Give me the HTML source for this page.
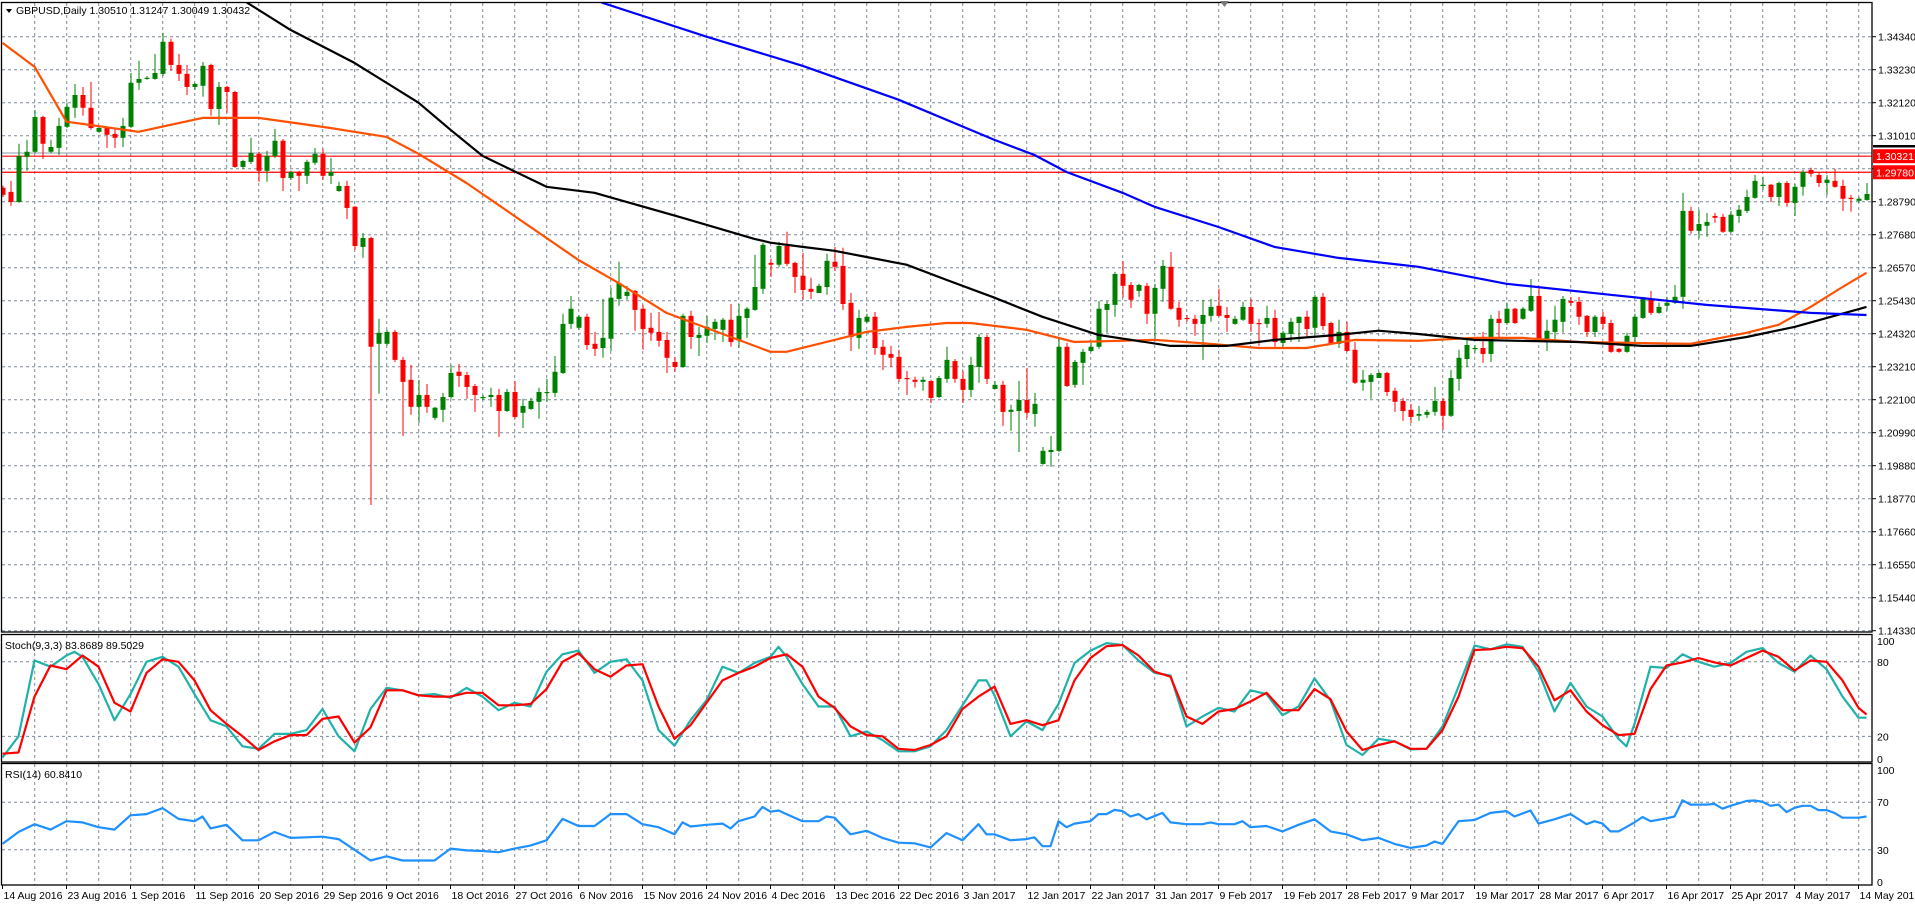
<!DOCTYPE html>
<html><head><meta charset="utf-8"><style>
html,body{margin:0;padding:0;background:#fff;}
svg{display:block;font-family:"Liberation Sans",sans-serif;}
</style></head><body>
<svg id="chart" width="1915" height="904" viewBox="0 0 1915 904" xmlns="http://www.w3.org/2000/svg">
<rect x="0" y="0" width="1915" height="904" fill="#fff"/>
<g id="grid"></g><g id="marks"></g><g id="axes"></g>
</svg>
<script>
// ---- data ----
const open_=[1.2926,1.2912,1.2878,1.3030,1.3047,1.3164,1.3047,1.3060,1.3131,1.3195,1.3238,1.3195,1.3114,1.3127,1.3107,1.3094,1.3131,1.3279,1.3292,1.3292,1.3309,1.3417,1.3339,1.3309,1.3265,1.3269,1.3339,1.3191,1.3265,1.3248,1.2996,1.3013,1.3040,1.2983,1.3033,1.3084,1.2959,1.2979,1.2966,1.3010,1.3040,1.2966,1.2915,1.2932,1.2862,1.2727,1.2757,1.2401,1.2401,1.2441,1.2347,1.2280,1.2189,1.2229,1.2152,1.2179,1.2222,1.2307,1.2296,1.2259,1.2219,1.2222,1.2229,1.2175,1.2239,1.2169,1.2182,1.2206,1.2236,1.2236,1.2303,1.2468,1.2455,1.2492,1.2401,1.2387,1.2418,1.2552,1.2562,1.2579,1.2519,1.2455,1.2441,1.2414,1.2340,1.2323,1.2495,1.2421,1.2428,1.2451,1.2448,1.2482,1.2414,1.2488,1.2515,1.2586,1.2673,1.2667,1.2730,1.2673,1.2630,1.2586,1.2572,1.2592,1.2677,1.2663,1.2539,1.2421,1.2475,1.2492,1.2391,1.2367,1.2357,1.2286,1.2280,1.2273,1.2276,1.2222,1.2283,1.2343,1.2283,1.2246,1.2323,1.2424,1.2249,1.2263,1.2172,1.2175,1.2212,1.2165,1.1997,1.2037,1.2041,1.2391,1.2263,1.2337,1.2377,1.2391,1.2515,1.2532,1.2636,1.2599,1.2579,1.2596,1.2502,1.2586,1.2660,1.2522,1.2488,1.2485,1.2468,1.2495,1.2529,1.2498,1.2468,1.2482,1.2525,1.2471,1.2468,1.2488,1.2404,1.2434,1.2471,1.2492,1.2455,1.2559,1.2471,1.2401,1.2441,1.2381,1.2270,1.2273,1.2286,1.2303,1.2243,1.2209,1.2179,1.2159,1.2162,1.2172,1.2209,1.2159,1.2283,1.2350,1.2384,1.2387,1.2367,1.2485,1.2471,1.2519,1.2485,1.2512,1.2562,1.2418,1.2441,1.2475,1.2545,1.2542,1.2495,1.2441,1.2492,1.2471,1.2384,1.2374,1.2424,1.2488,1.2549,1.2505,1.2529,1.2539,1.2559,1.2848,1.2781,1.2798,1.2831,1.2828,1.2778,1.2831,1.2848,1.2892,1.2932,1.2936,1.2895,1.2942,1.2875,1.2929,1.2986,1.2969,1.2942,1.2949,1.2932,1.2892,1.2882,1.2885];
const high_=[1.2933,1.2949,1.3074,1.3087,1.3188,1.3168,1.3087,1.3161,1.3212,1.3275,1.3265,1.3282,1.3134,1.3131,1.3127,1.3161,1.3312,1.3353,1.3302,1.3376,1.3447,1.3427,1.3376,1.3339,1.3279,1.3349,1.3343,1.3282,1.3269,1.3252,1.3020,1.3094,1.3047,1.3050,1.3124,1.3090,1.2983,1.2983,1.3020,1.3060,1.3057,1.3026,1.2946,1.2949,1.2865,1.2774,1.2761,1.2485,1.2448,1.2448,1.2357,1.2330,1.2280,1.2266,1.2189,1.2236,1.2330,1.2333,1.2307,1.2266,1.2229,1.2253,1.2249,1.2249,1.2276,1.2216,1.2219,1.2253,1.2283,1.2360,1.2502,1.2562,1.2498,1.2502,1.2441,1.2552,1.2589,1.2677,1.2596,1.2582,1.2532,1.2505,1.2508,1.2441,1.2357,1.2502,1.2512,1.2458,1.2495,1.2485,1.2488,1.2535,1.2535,1.2525,1.2700,1.2741,1.2687,1.2744,1.2778,1.2677,1.2707,1.2623,1.2603,1.2704,1.2727,1.2724,1.2572,1.2515,1.2502,1.2508,1.2414,1.2394,1.2381,1.2310,1.2290,1.2290,1.2280,1.2293,1.2391,1.2350,1.2310,1.2357,1.2434,1.2431,1.2276,1.2276,1.2196,1.2276,1.2320,1.2236,1.2054,1.2091,1.2418,1.2404,1.2347,1.2384,1.2404,1.2545,1.2545,1.2643,1.2680,1.2609,1.2603,1.2606,1.2603,1.2683,1.2710,1.2542,1.2498,1.2498,1.2549,1.2552,1.2586,1.2525,1.2495,1.2542,1.2552,1.2485,1.2529,1.2515,1.2445,1.2488,1.2492,1.2512,1.2566,1.2572,1.2475,1.2482,1.2475,1.2407,1.2313,1.2303,1.2307,1.2307,1.2253,1.2219,1.2199,1.2192,1.2179,1.2256,1.2219,1.2313,1.2381,1.2414,1.2397,1.2441,1.2498,1.2512,1.2539,1.2522,1.2525,1.2619,1.2589,1.2482,1.2529,1.2562,1.2559,1.2559,1.2498,1.2498,1.2508,1.2482,1.2387,1.2438,1.2502,1.2559,1.2579,1.2539,1.2559,1.2599,1.2909,1.2862,1.2852,1.2841,1.2841,1.2838,1.2848,1.2868,1.2919,1.2969,1.2963,1.2939,1.2946,1.2949,1.2939,1.2986,1.2993,1.2976,1.2969,1.2989,1.2953,1.2902,1.2895,1.2942];
const low_=[1.2895,1.2865,1.2875,1.2983,1.3043,1.3023,1.3043,1.3036,1.3127,1.3161,1.3168,1.3121,1.3111,1.3060,1.3060,1.3063,1.3127,1.3255,1.3289,1.3289,1.3302,1.3319,1.3285,1.3238,1.3255,1.3232,1.3168,1.3137,1.3178,1.2993,1.2989,1.3006,1.2946,1.2946,1.3026,1.2915,1.2953,1.2915,1.2939,1.3003,1.2953,1.2939,1.2912,1.2821,1.2717,1.2690,1.1859,1.2233,1.2394,1.2340,1.2091,1.2162,1.2135,1.2169,1.2145,1.2138,1.2216,1.2256,1.2216,1.2172,1.2212,1.2189,1.2088,1.2172,1.2149,1.2118,1.2179,1.2149,1.2206,1.2222,1.2300,1.2451,1.2448,1.2381,1.2360,1.2354,1.2377,1.2529,1.2549,1.2445,1.2381,1.2411,1.2391,1.2303,1.2307,1.2320,1.2384,1.2360,1.2404,1.2414,1.2407,1.2391,1.2387,1.2421,1.2512,1.2569,1.2626,1.2660,1.2663,1.2572,1.2549,1.2552,1.2572,1.2566,1.2646,1.2515,1.2377,1.2384,1.2471,1.2364,1.2313,1.2323,1.2273,1.2229,1.2253,1.2243,1.2202,1.2219,1.2270,1.2270,1.2202,1.2222,1.2270,1.2266,1.2249,1.2125,1.2108,1.2037,1.2152,1.2122,1.1994,1.1987,1.2037,1.2256,1.2253,1.2263,1.2374,1.2384,1.2438,1.2492,1.2556,1.2522,1.2559,1.2468,1.2414,1.2542,1.2515,1.2458,1.2475,1.2428,1.2347,1.2475,1.2492,1.2441,1.2465,1.2478,1.2441,1.2394,1.2455,1.2391,1.2391,1.2407,1.2407,1.2424,1.2431,1.2448,1.2397,1.2387,1.2374,1.2266,1.2243,1.2216,1.2286,1.2226,1.2172,1.2142,1.2135,1.2142,1.2152,1.2159,1.2112,1.2155,1.2243,1.2323,1.2371,1.2337,1.2340,1.2424,1.2465,1.2468,1.2482,1.2508,1.2414,1.2377,1.2407,1.2438,1.2529,1.2465,1.2424,1.2424,1.2451,1.2371,1.2371,1.2371,1.2397,1.2485,1.2498,1.2502,1.2512,1.2535,1.2519,1.2771,1.2757,1.2761,1.2808,1.2774,1.2774,1.2808,1.2841,1.2889,1.2919,1.2878,1.2865,1.2862,1.2831,1.2899,1.2963,1.2929,1.2902,1.2926,1.2848,1.2845,1.2875,1.2882];
const close_=[1.2902,1.2878,1.3033,1.3047,1.3164,1.3074,1.3063,1.3134,1.3198,1.3238,1.3195,1.3127,1.3127,1.3104,1.3094,1.3134,1.3279,1.3292,1.3296,1.3312,1.3417,1.3339,1.3309,1.3265,1.3275,1.3336,1.3191,1.3265,1.3248,1.2996,1.3016,1.3043,1.2983,1.3033,1.3084,1.2959,1.2979,1.2966,1.3013,1.3040,1.2966,1.2979,1.2932,1.2858,1.2730,1.2757,1.2391,1.2438,1.2441,1.2347,1.2273,1.2189,1.2229,1.2189,1.2186,1.2222,1.2303,1.2293,1.2256,1.2229,1.2222,1.2229,1.2175,1.2239,1.2155,1.2192,1.2209,1.2239,1.2239,1.2307,1.2468,1.2519,1.2492,1.2397,1.2384,1.2421,1.2556,1.2606,1.2576,1.2515,1.2451,1.2438,1.2411,1.2354,1.2323,1.2495,1.2424,1.2431,1.2458,1.2475,1.2482,1.2407,1.2495,1.2519,1.2592,1.2734,1.2667,1.2730,1.2670,1.2626,1.2582,1.2576,1.2596,1.2680,1.2660,1.2535,1.2424,1.2488,1.2492,1.2387,1.2364,1.2354,1.2283,1.2283,1.2273,1.2280,1.2219,1.2286,1.2347,1.2283,1.2246,1.2330,1.2424,1.2283,1.2263,1.2172,1.2179,1.2212,1.2169,1.2199,1.2041,1.2044,1.2391,1.2259,1.2340,1.2374,1.2391,1.2519,1.2535,1.2636,1.2596,1.2549,1.2599,1.2502,1.2589,1.2663,1.2519,1.2482,1.2487,1.2468,1.2498,1.2525,1.2495,1.2488,1.2485,1.2525,1.2468,1.2468,1.2488,1.2407,1.2438,1.2475,1.2492,1.2451,1.2559,1.2461,1.2401,1.2441,1.2377,1.2270,1.2280,1.2296,1.2303,1.2239,1.2206,1.2175,1.2155,1.2165,1.2172,1.2209,1.2159,1.2286,1.2354,1.2397,1.2387,1.2367,1.2485,1.2471,1.2519,1.2471,1.2519,1.2562,1.2418,1.2445,1.2482,1.2552,1.2539,1.2492,1.2441,1.2492,1.2468,1.2374,1.2374,1.2428,1.2492,1.2556,1.2505,1.2525,1.2539,1.2559,1.2848,1.2781,1.2804,1.2811,1.2825,1.2778,1.2835,1.2852,1.2895,1.2949,1.2936,1.2895,1.2942,1.2875,1.2929,1.2979,1.2973,1.2942,1.2953,1.2929,1.2889,1.2889,1.2889,1.2905];
const ma50=[[0,1.3413],[4,1.3333],[8,1.3148],[11,1.3137],[17,1.3114],[25,1.3161],[32,1.3161],[41,1.3127],[48,1.3097],[52,1.3040],[58,1.2942],[72,1.2683],[77,1.2606],[83,1.2505],[92,1.2414],[96,1.2374],[98,1.2374],[104,1.2414],[108,1.2441],[113,1.2458],[118,1.2471],[121,1.2471],[128,1.2448],[134,1.2407],[144,1.2414],[151,1.2401],[157,1.2387],[163,1.2387],[169,1.2414],[177,1.2411],[184,1.2421],[190,1.2421],[197,1.2407],[211,1.2401],[218,1.2438],[222,1.2465],[226,1.2525],[230,1.2592],[233,1.2640]];
const ma100=[[25,1.3625],[30,1.3558],[36,1.3457],[44,1.3346],[52,1.3212],[56,1.3121],[60,1.3033],[68,1.2929],[74,1.2909],[85,1.2825],[94,1.2754],[96,1.2741],[100,1.2727],[104,1.2714],[108,1.2693],[113,1.2667],[118,1.2616],[124,1.2556],[130,1.2492],[137,1.2431],[146,1.2394],[153,1.2394],[159,1.2414],[167,1.2431],[172,1.2445],[177,1.2434],[184,1.2414],[197,1.2407],[205,1.2394],[211,1.2394],[218,1.2424],[224,1.2458],[233,1.2525]];
const ma200=[[70,1.3608],[75,1.3548],[88,1.3434],[100,1.3336],[112,1.3222],[124,1.3087],[129,1.3036],[133,1.2979],[140,1.2909],[144,1.2862],[152,1.2794],[159,1.2727],[167,1.2690],[177,1.2660],[188,1.2603],[201,1.2566],[213,1.2532],[226,1.2505],[233,1.2498]];
const stochK=[[0,3],[2,20],[4,81],[6,76],[8,85],[9,88],[10,84],[12,62],[14,33],[16,54],[18,80],[20,84],[22,76],[24,54],[26,33],[28,28],[30,12],[32,10],[34,22],[36,22],[38,25],[40,42],[42,20],[44,8],[46,42],[48,59],[50,57],[52,53],[54,54],[56,51],[58,59],[60,52],[62,41],[64,47],[66,44],[68,72],[70,86],[72,89],[74,71],[76,80],[78,82],[80,65],[82,25],[84,12.5],[86,33],[88,49],[90,76],[92,71],[94,79],[96,84],[97,92],[98,84],[100,62],[102,44],[104,44],[106,20],[108,24],[110,17],[112,8],[114,8],[116,12],[118,25],[120,45],[122,65],[123,65],[124,53],[126,20],[128,32],[130,25],[132,46],[134,79],[136,89],[138,95],[140,93.5],[142,81],[144,71],[146,69],[148,28],[150,36],[152,43],[154,40],[156,57],[158,54],[160,37],[162,44],[164,66.6],[166,49],[168,13],[170,5],[172,18],[174,16],[176,9.5],[178,10],[180,28],[182,60],[184,93],[186,90],[188,94],[190,92],[192,72],[194,40],[196,63],[198,44],[200,36],[202,18],[203,12],[204,30],[206,76],[208,75],[210,86],[212,80],[214,76],[216,79],[218,88],[220,91],[222,79],[224,72],[226,85],[228,74],[230,52],[232,35],[233,35]];
const stochD=[[0,6],[2,7],[4,52],[6,77],[8,74],[10,85],[12,76],[14,47],[16,40],[18,71],[20,82],[22,80],[24,65],[26,41],[28,30],[30,20],[32,9],[34,16],[36,21],[38,21],[40,34],[42,36],[44,15],[46,27],[48,57],[50,57],[52,53],[54,52],[56,52],[58,55],[60,55],[62,45],[64,45],[66,46],[68,58],[70,80],[72,87],[74,74],[76,68],[78,77],[80,78],[82,44],[84,18],[86,29],[88,47],[90,65],[92,71],[94,76],[96,83],[98,86],[100,76],[102,52],[104,43],[106,28],[108,21],[110,20],[112,10],[114,9],[116,13],[118,20],[120,42],[122,52],[124,60],[126,30],[128,33],[130,29],[132,33],[134,65],[136,83],[138,92.5],[140,93.5],[142,85],[144,72],[146,68],[148,36],[150,30],[152,40],[154,42],[156,48],[158,55],[160,41],[162,41],[164,58],[166,50],[168,24],[170,9],[172,13],[174,16],[176,10],[178,10],[180,25],[182,52],[184,89.5],[186,90],[188,92],[190,91],[192,76],[194,49],[196,57],[198,40],[200,29],[202,21],[204,22],[206,58],[208,77],[210,79.5],[212,83],[214,79.5],[216,77],[218,83],[220,89],[222,84],[224,73],[226,81],[228,80],[230,65],[232,43],[233,37.6]];
const rsi=[[0,35],[2,45],[4,51.5],[6,47],[8,54],[10,53],[12,49],[14,47],[16,59],[18,60],[20,65],[22,56],[24,54],[25,58],[26,48],[28,51],[30,38],[32,38],[34,45],[36,40],[38,40.5],[40,41],[42,39],[44,30],[46,21],[48,24.5],[50,21],[52,21],[54,21],[56,31],[58,29.5],[60,29],[62,28],[64,31],[66,33.5],[68,38],[70,56],[72,50],[74,50],[76,60],[78,60],[80,51.5],[82,49],[84,43],[85,53],[86,49.6],[88,51],[90,52],[91,48],[92,54],[94,58],[95,66],[96,62],[97,63],[98,60],[100,54],[102,54],[103,58],[104,57],[106,43],[108,46],[110,40],[112,36],[114,35.5],[116,32],[118,44],[120,38],[122,51.5],[123,43],[124,43],[126,38],[128,39],[129,40.5],[130,33],[131,33],[132,54],[133,49],[134,52],[136,54],[137,60],[138,60],[139,63.5],[140,62.5],[141,58],[142,60],[143,55.6],[145,61],[146,53],[148,51.5],[150,51.5],[151,53],[152,51.5],[154,51.5],[155,54],[156,49],[158,50],[160,45.5],[162,51],[164,55.6],[166,45.5],[168,43],[170,38],[172,40],[174,35],[176,31.6],[178,33.6],[179,37],[180,35],[182,54],[184,55],[186,61],[188,62.5],[189,58],[191,63],[192,52],[194,55.6],[196,60],[198,51.5],[199,54],[200,52],[201,45.5],[202,45.5],[204,53],[205,57.6],[206,54],[208,56.5],[209,58],[210,71.6],[211,68],[213,68],[214,68.6],[215,64.5],[216,67],[218,71],[219,71.4],[220,70.3],[221,67],[222,68],[223,61.7],[224,65.3],[225,67],[226,67],[227,63.4],[228,63.4],[229,61],[230,57],[232,57],[233,58]];
const priceTicks=["1.34340","1.33230","1.32120","1.31010","","1.28790","1.27680","1.26570","1.25430","1.24320","1.23210","1.22100","1.20990","1.19880","1.18770","1.17660","1.16550","1.15440","1.14330"];
const dateLabels=["14 Aug 2016","23 Aug 2016","1 Sep 2016","11 Sep 2016","20 Sep 2016","29 Sep 2016","9 Oct 2016","18 Oct 2016","27 Oct 2016","6 Nov 2016","15 Nov 2016","24 Nov 2016","4 Dec 2016","13 Dec 2016","22 Dec 2016","3 Jan 2017","12 Jan 2017","22 Jan 2017","31 Jan 2017","9 Feb 2017","19 Feb 2017","28 Feb 2017","9 Mar 2017","19 Mar 2017","28 Mar 2017","6 Apr 2017","16 Apr 2017","25 Apr 2017","4 May 2017","14 May 2017"];
const stochTicks=[100,80,20,0];
const rsiTicks=[100,70,30,0];
const levels=[1.30321,1.29780];

// ---- geometry ----
const NS="http://www.w3.org/2000/svg";
const PL=2, PR=1872, MT=3, MB=632, ST=635, SB=762, RT=764, RB=885;
const xOf=i=>2.5+8*i;
const yP=p=>36.7+(1.3434-p)*2973;
const yS=v=>761.2-v*1.243;
const yR=v=>885.5-v*1.19;
const grid=document.getElementById('grid'), marks=document.getElementById('marks'), axes=document.getElementById('axes');
function mk(tag,attrs,parent){const e=document.createElementNS(NS,tag);for(const k in attrs)e.setAttribute(k,attrs[k]);parent.appendChild(e);return e;}
const GC="#7d8b99";
// clip paths
const defs=mk('defs',{},document.getElementById('chart'));
const c1=mk('clipPath',{id:'cm'},defs);mk('rect',{x:PL,y:MT,width:PR-PL,height:MB-MT},c1);
const c2=mk('clipPath',{id:'cs'},defs);mk('rect',{x:PL,y:ST,width:PR-PL,height:SB-ST},c2);
const c3=mk('clipPath',{id:'cr'},defs);mk('rect',{x:PL,y:RT,width:PR-PL,height:RB-RT},c3);

// vertical grid
for(let k=1;k<=58;k++){const x=2.7+32*k;
 for(const [a,b] of [[MT,MB],[ST,SB],[RT,RB]]){
  const l=mk('line',{x1:x,x2:x,y1:a,y2:b,stroke:GC,'stroke-dasharray':'3,3','stroke-width':1},grid);
  
  }}
// horizontal grid main + price ticks
priceTicks.forEach((t,k)=>{const y=36.7+33*k;
 const l=mk('line',{x1:PL,x2:PR,y1:y,y2:y,stroke:GC,'stroke-dasharray':'3,3'},grid);
 
 
 mk('line',{x1:PR,x2:PR+4,y1:y,y2:y,stroke:'#000'},axes);
 if(t){const tx=mk('text',{x:1878,y:y+4,'font-size':10.5,fill:'#000'},axes);tx.textContent=t;
 
 }
});
[80,20].forEach(v=>{const l=mk('line',{x1:PL,x2:PR,y1:yS(v),y2:yS(v),stroke:GC,'stroke-dasharray':'3,3'},grid);
 
 });
[70,30].forEach(v=>{const l=mk('line',{x1:PL,x2:PR,y1:yR(v),y2:yR(v),stroke:GC,'stroke-dasharray':'3,3'},grid);
 
 });
stochTicks.forEach(v=>{const t=mk('text',{x:1877,y:Math.min(Math.max(yS(v),ST+6),SB-3)+4,'font-size':10.5},axes);t.textContent=v;
 
 });
rsiTicks.forEach(v=>{const t=mk('text',{x:1877,y:Math.min(Math.max(yR(v),RT+6),RB-3)+4,'font-size':10.5},axes);t.textContent=v;
 
 });
dateLabels.forEach((d,k)=>{const x=xOf(8*k);
 mk('line',{x1:x,x2:x,y1:RB,y2:RB+4,stroke:'#000'},axes);
 const t=mk('text',{x:x+1,y:899,'font-size':10.5},axes);t.textContent=d;
 
 });

// level lines
const gl=mk('line',{x1:PL,x2:PR,y1:yP(1.3043),y2:yP(1.3043),stroke:'#8899aa'},marks);


levels.forEach(p=>{const l=mk('line',{x1:PL,x2:PR,y1:yP(p),y2:yP(p),stroke:'#ff0000','stroke-width':1.2},marks);
 
 
 const r=mk('rect',{x:PR+1,y:yP(p)-7,width:42,height:14,fill:'#ff0000'},axes);
 
 
 const t=mk('text',{x:PR+4,y:yP(p)+4,'font-size':10.5,fill:'#fff'},axes);t.textContent=p.toFixed(5);
 
 });
mk('rect',{x:PR+1,y:145,width:42,height:2.5,fill:'#000'},axes);

// candles
const cg=mk('g',{'clip-path':'url(#cm)'},marks);
for(let i=0;i<close_.length;i++){
 const up=close_[i]>=open_[i], col=up?'#008000':'#ff0000', x=xOf(i);
 const w=mk('line',{x1:x+0.5,x2:x+0.5,y1:yP(high_[i]),y2:yP(low_[i]),stroke:col,'stroke-width':1},cg);
 
 
 const yt=yP(Math.max(open_[i],close_[i])), yb=yP(Math.min(open_[i],close_[i]));
 const b=mk('rect',{x:x-2,y:yt,width:5,height:Math.max(1.2,yb-yt),fill:col},cg);
 
 
}
function pline(arr,yf,col,clip,name){const pts=arr.map(d=>xOf(d[0]).toFixed(1)+','+yf(d[1]).toFixed(1)).join(' ');
 const p=mk('polyline',{points:pts,fill:'none',stroke:col,'stroke-width':2.2,'clip-path':'url(#'+clip+')','stroke-linejoin':'round'},marks);
 
 }
pline(ma50,yP,'#ff5000','cm','moving-average-fast');
pline(ma100,yP,'#000000','cm','moving-average-medium');
pline(ma200,yP,'#0000ff','cm','moving-average-slow');
pline(stochK,yS,'#20b2aa','cs','stochastic-main-line');
pline(stochD,yS,'#ff0000','cs','stochastic-signal-line');
pline(rsi,yR,'#1e90ff','cr','rsi-line');

// borders
[[MT,MB],[ST,SB],[RT,RB]].forEach(([a,b])=>{const r=mk('rect',{x:PL-0.5,y:a-0.5,width:PR-PL+0.5,height:b-a+0.5,fill:'none',stroke:'#000','stroke-width':1.3},axes);
 
 });
const tri=mk('polygon',{points:'1220,1 1229,1 1224.5,7',fill:'#777'},axes);


const tarr=mk('polygon',{points:'6,9 12,9 9,13',fill:'#000'},axes);


const tt=mk('text',{x:16,y:14,'font-size':10.5},axes);tt.textContent='GBPUSD,Daily  1.30510 1.31247 1.30049 1.30432';


const st=mk('text',{x:5,y:649,'font-size':10.5},axes);st.textContent='Stoch(9,3,3) 83.8689 89.5029';


const rt=mk('text',{x:5,y:778,'font-size':10.5},axes);rt.textContent='RSI(14) 60.8410';


</script>
</body></html>
